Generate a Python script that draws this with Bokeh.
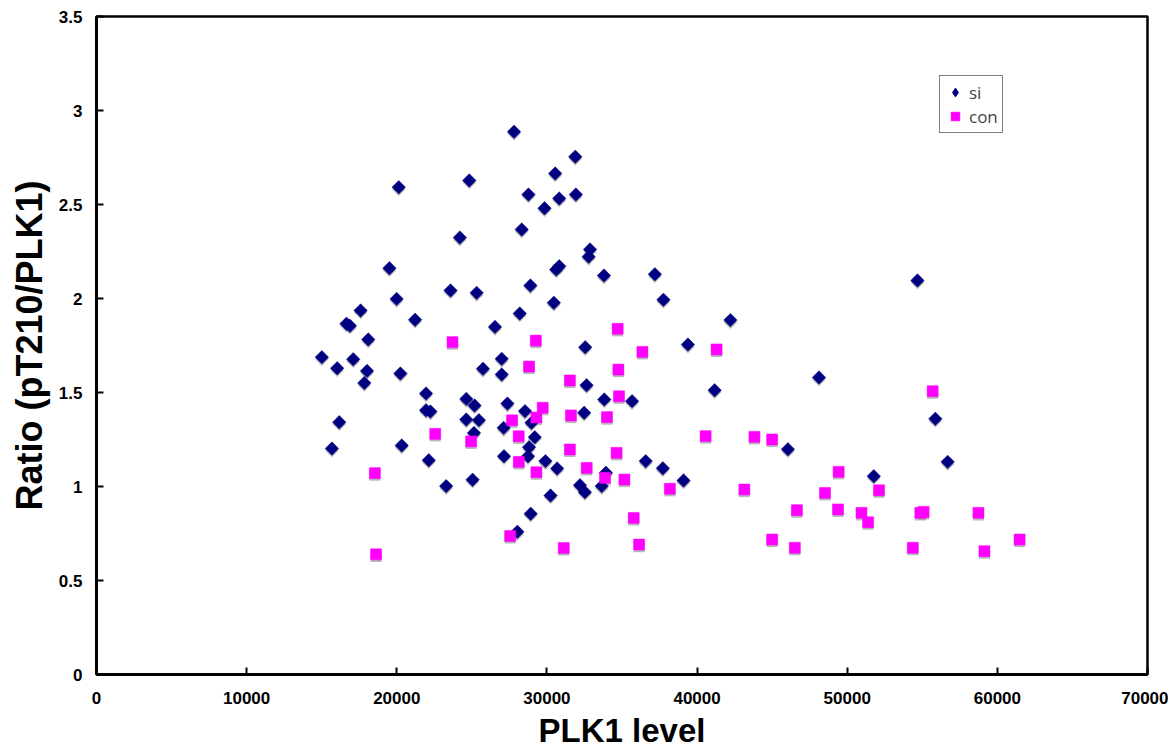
import numpy as np
from bokeh.plotting import figure
from bokeh.models import (Range1d, FixedTicker, CustomJSTickFormatter, Legend,
                          LegendItem, ColumnDataSource)
from bokeh.embed import file_html
from bokeh.resources import INLINE

# ---- data ----
si_x = [27810, 31890, 30550, 20130, 24830, 28770, 30820, 31930, 29840, 28320,
        24200, 32870, 32780, 19510, 30820, 30620, 33800, 37190, 19990, 23580,
        25320, 28900, 30460, 37760, 17590, 16650, 16880, 21220, 26540, 28190,
        18100, 32550, 15010, 17100, 16030, 18020, 20240, 25740, 26990, 26990,
        17840, 32640, 33820, 35670, 21950, 21950, 22240, 24630, 25180, 24630,
        25470, 25140, 27370, 28540, 27120, 28970, 29190, 28810, 28740, 27140,
        32480, 29900, 30680, 16170, 15680, 20330, 22130, 23290, 25050, 28030,
        28920, 30240, 32200, 32530, 33650, 33930, 36580, 37720, 39100, 42220,
        39390, 48120, 55870, 41170, 46050, 56690, 51770, 54680]
si_y = [2.887, 2.754, 2.665, 2.592, 2.628, 2.553, 2.532, 2.553, 2.480, 2.367,
        2.324, 2.261, 2.222, 2.161, 2.172, 2.154, 2.122, 2.129, 1.998, 2.043,
        2.030, 2.069, 1.977, 1.993, 1.936, 1.866, 1.855, 1.887, 1.849, 1.920,
        1.782, 1.741, 1.688, 1.677, 1.629, 1.615, 1.601, 1.626, 1.679, 1.596,
        1.551, 1.539, 1.463, 1.454, 1.495, 1.406, 1.399, 1.466, 1.431, 1.356,
        1.353, 1.285, 1.441, 1.401, 1.312, 1.339, 1.262, 1.209, 1.161, 1.161,
        1.392, 1.135, 1.096, 1.342, 1.202, 1.218, 1.140, 1.002, 1.036, 0.759,
        0.855, 0.952, 1.007, 0.970, 1.002, 1.073, 1.135, 1.097, 1.032, 1.885,
        1.755, 1.580, 1.360, 1.512, 1.198, 1.131, 1.055, 2.096]

con_x = [23710, 29260, 34710, 36360, 28810, 34760, 31530, 34800, 29720, 29300,
         31600, 34000, 27680, 28120, 22560, 24950, 31530, 34640, 28130, 29300,
         32650, 33870, 35160, 38190, 18540, 18620, 27550, 31120, 35780, 36140,
         41300, 40570, 43820, 45000, 55690, 43150, 49430, 48520, 52120, 46650,
         49390, 50950, 51390, 54870, 55090, 58740, 45000, 46510, 54370, 59140,
         61480]
con_y = [1.768, 1.776, 1.839, 1.716, 1.638, 1.622, 1.564, 1.480, 1.419, 1.367,
         1.378, 1.369, 1.352, 1.267, 1.280, 1.240, 1.197, 1.179, 1.131, 1.076,
         1.099, 1.046, 1.037, 0.988, 1.071, 0.639, 0.737, 0.673, 0.833, 0.691,
         1.729, 1.268, 1.264, 1.250, 1.507, 0.984, 1.078, 0.966, 0.980, 0.874,
         0.878, 0.860, 0.810, 0.860, 0.865, 0.860, 0.718, 0.674, 0.674, 0.656,
         0.718]

x_ticks = [0, 10000, 20000, 30000, 40000, 50000, 60000, 70000]
y_ticks = [0, 0.5, 1, 1.5, 2, 2.5, 3, 3.5]
series_names = ["si", "con"]

p = figure(width=1168, height=751, x_range=Range1d(0, 70000), y_range=Range1d(0, 3.5),
           output_backend="svg", toolbar_location=None,
           min_border_left=96, min_border_right=21, min_border_top=16, min_border_bottom=77)
p.background_fill_color = "white"
p.border_fill_color = "white"
p.xgrid.visible = False
p.ygrid.visible = False
p.outline_line_color = "black"
p.outline_line_width = 2.5

shadow = 0.011
si_src = ColumnDataSource(dict(x=si_x, y=si_y, ys=list(np.array(si_y) - shadow)))
con_src = ColumnDataSource(dict(x=con_x, y=con_y, ys=list(np.array(con_y) - shadow)))

p.scatter("x", "ys", source=si_src, marker="square", angle=np.pi / 4, size=9.5,
          fill_color="#8a8a8a", line_color=None, fill_alpha=0.6)
p.scatter("x", "ys", source=con_src, marker="square", size=11,
          fill_color="#8a8a8a", line_color=None, fill_alpha=0.6)
p.scatter("x", "y", source=si_src, marker="square", angle=np.pi / 4, size=9.5,
          fill_color="#000080", line_color="#000080", line_width=0.5)
r_con = p.scatter("x", "y", source=con_src, marker="square", size=11,
                  fill_color="#FF00FF", line_color="#FF00FF", line_width=0.5)
# legend-only proxy glyph for the diamond series (NaN point, never drawn in the plot)
r_si_leg = p.scatter(x=[np.nan], y=[np.nan], marker="diamond", size=13,
                     fill_color="#000080", line_color="#000080")

fmt = CustomJSTickFormatter(code="return String(Math.round(tick*10)/10);")
for ax in (p.xaxis[0], p.yaxis[0]):
    ax.axis_line_width = 3
    ax.axis_line_color = "black"
    ax.major_tick_in = 7
    ax.major_tick_out = 0
    ax.major_tick_line_width = 2
    ax.minor_tick_line_color = None
    ax.formatter = fmt
    ax.major_label_text_font = "Liberation Sans"
    ax.major_label_text_font_style = "bold"
    ax.major_label_text_color = "black"
    ax.major_label_text_font_size = "17px"
    ax.axis_label_text_font = "Liberation Sans"
    ax.axis_label_text_font_style = "bold"
    ax.axis_label_text_color = "black"

p.xaxis[0].ticker = FixedTicker(ticks=x_ticks)
p.yaxis[0].ticker = FixedTicker(ticks=y_ticks)

p.xaxis.axis_label = "PLK1 level"
p.xaxis.axis_label_text_font_size = "33px"
p.xaxis.axis_label_standoff = 5
p.xaxis.major_label_standoff = 17

p.yaxis.axis_label = "Ratio (pT210/PLK1)"
p.yaxis.axis_label_text_font_size = "36px"
p.yaxis.axis_label_standoff = 6
p.yaxis.major_label_standoff = 14

legend = Legend(items=[LegendItem(label=series_names[0], renderers=[r_si_leg]),
                       LegendItem(label=series_names[1], renderers=[r_con])],
                location=(843, 541))
legend.border_line_color = "black"
legend.border_line_width = 1.5
legend.padding = 4
legend.spacing = 0
legend.margin = 0
legend.glyph_width = 22
legend.glyph_height = 24
legend.label_height = 24
legend.label_standoff = 3
legend.label_text_font = "Open Sans"
legend.label_text_font_size = "17px"
legend.background_fill_color = "white"
p.add_layout(legend, "center")

open("out.html", "w").write(file_html(p, INLINE))
